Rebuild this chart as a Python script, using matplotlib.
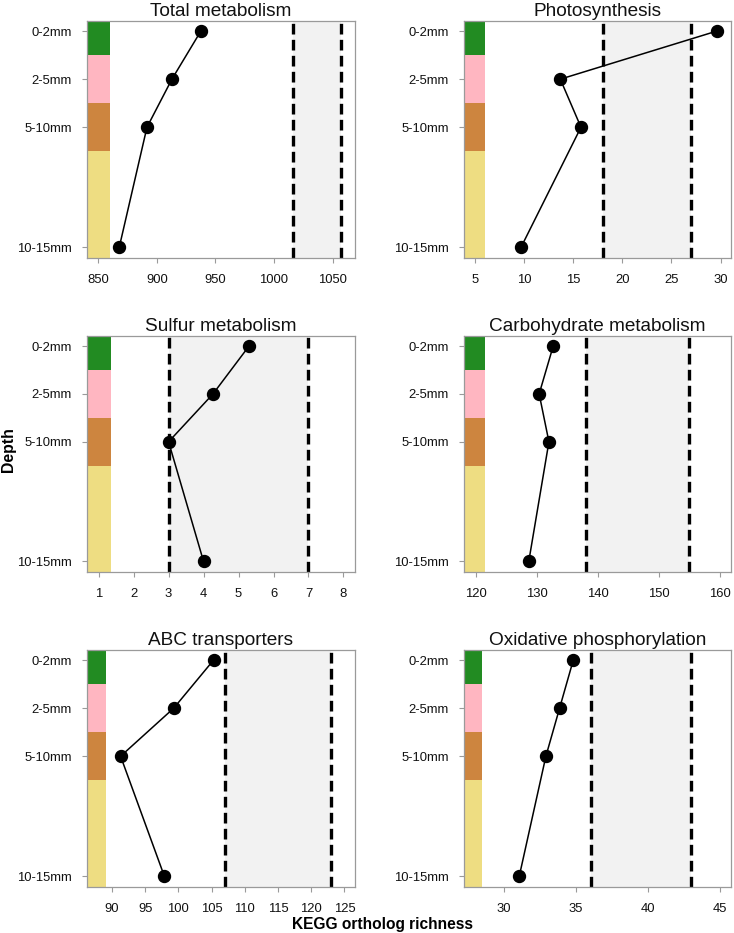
import matplotlib
matplotlib.use("Agg")
import matplotlib.pyplot as plt

plt.rcParams['font.family'] = ['Liberation Sans', 'DejaVu Sans']

# ---------------- data ----------------
depths = ["0-2mm", "2-5mm", "5-10mm", "10-15mm"]
depth_colors = ["#228B22", "#FFB6C1", "#CD853F", "#EEDD82"]

titles = ["Total metabolism", "Photosynthesis", "Sulfur metabolism",
          "Carbohydrate metabolism", "ABC transporters", "Oxidative phosphorylation"]

total_metabolism = [937.6, 912.9, 891.6, 867.9]
photosynthesis = [29.6, 13.7, 15.8, 9.7]
sulfur_metabolism = [5.3, 4.27, 3.0, 4.0]
carbohydrate_metabolism = [132.7, 130.4, 132.0, 128.7]
abc_transporters = [105.3, 99.3, 91.3, 97.9]
oxidative_phosphorylation = [34.8, 33.85, 32.9, 31.05]

# null-model ranges (dashed lines / shaded band)
null_total = (1016.3, 1056.9)
null_photo = (18.0, 27.0)
null_sulfur = (3.0, 7.0)
null_carb = (138.0, 155.0)
null_abc = (107.0, 123.0)
null_oxphos = (36.0, 43.0)

# x ticks per panel
ticks_total = [850, 900, 950, 1000, 1050]
ticks_photo = [5, 10, 15, 20, 25, 30]
ticks_sulfur = [1, 2, 3, 4, 5, 6, 7, 8]
ticks_carb = [120, 130, 140, 150, 160]
ticks_abc = [90, 95, 100, 105, 110, 115, 120, 125]
ticks_oxphos = [30, 35, 40, 45]

# ---------------- layout ----------------
depth_pos = [1, 2, 3, 5.5]
band_edges = [0.0, 1.5, 2.5, 3.5, 7.0]
ylim = (5.72, 0.79)

panels = [
    (total_metabolism, null_total, ticks_total, (840.4, 1069.2), 860.2),
    (photosynthesis, null_photo, ticks_photo, (3.91, 31.05), 6.09),
    (sulfur_metabolism, null_sulfur, ticks_sulfur, (0.667, 8.33), 1.35),
    (carbohydrate_metabolism, null_carb, ticks_carb, (118.1, 161.8), 121.5),
    (abc_transporters, null_abc, ticks_abc, (86.24, 126.6), 89.05),
    (oxidative_phosphorylation, null_oxphos, ticks_oxphos, (27.22, 45.74), 28.5),
]

W, H = 734, 933
fig = plt.figure(figsize=(W / 100, H / 100), dpi=100)

col_x = [(87, 355), (464, 731)]
row_y = [(21, 258), (336, 572), (650, 887)]

frame_col = "#9a9a9a"

for i, (vals, null, ticks, xl, bar_right) in enumerate(panels):
    r, c = divmod(i, 2)
    x0, x1 = col_x[c]
    y0, y1 = row_y[r]
    ax = fig.add_axes([x0 / W, 1 - y1 / H, (x1 - x0) / W, (y1 - y0) / H])
    ax.set_xlim(*xl)
    ax.set_ylim(*ylim)

    # shaded null range
    ax.axvspan(null[0], null[1], color="#F2F2F2", zorder=0, lw=0)
    # depth color bands
    for k in range(4):
        lo, hi = band_edges[k], band_edges[k + 1]
        ax.barh((lo + hi) / 2, bar_right - xl[0] + 5, left=xl[0] - 5,
                height=hi - lo, color=depth_colors[k], lw=0, zorder=1)
    # dashed lines
    for v in null:
        ax.axvline(v, color="black", lw=2.4, linestyle=(0, (3.2, 1.6)), zorder=2)
    # profile
    ax.plot(vals, depth_pos, color="black", lw=1.1, zorder=3)
    ax.plot(vals, depth_pos, "o", color="black", ms=8.6, zorder=4)

    ax.set_xticks(ticks)
    ax.set_xticklabels([str(t) for t in ticks])
    ax.set_yticks(depth_pos)
    ax.set_yticklabels(depths)
    ax.tick_params(axis="both", direction="out", length=3.6, width=0.8,
                   color=frame_col, labelsize=9.4, labelcolor="#111111")
    ax.tick_params(axis="x", pad=8)
    ax.tick_params(axis="y", pad=7.2)
    for s in ax.spines.values():
        s.set_color(frame_col)
        s.set_linewidth(0.9)
    ax.set_title(titles[i], fontsize=13.7, pad=3.5, color="#111111")

fig.text(8.5 / W, 1 - 450 / H, "Depth", rotation=90, fontsize=11.4,
         fontweight="bold", ha="center", va="center")
fig.text(383 / W, 1 - 925 / H, "KEGG ortholog richness", fontsize=11.2,
         fontweight="bold", ha="center", va="center")

fig.savefig("out.png", dpi=100)
